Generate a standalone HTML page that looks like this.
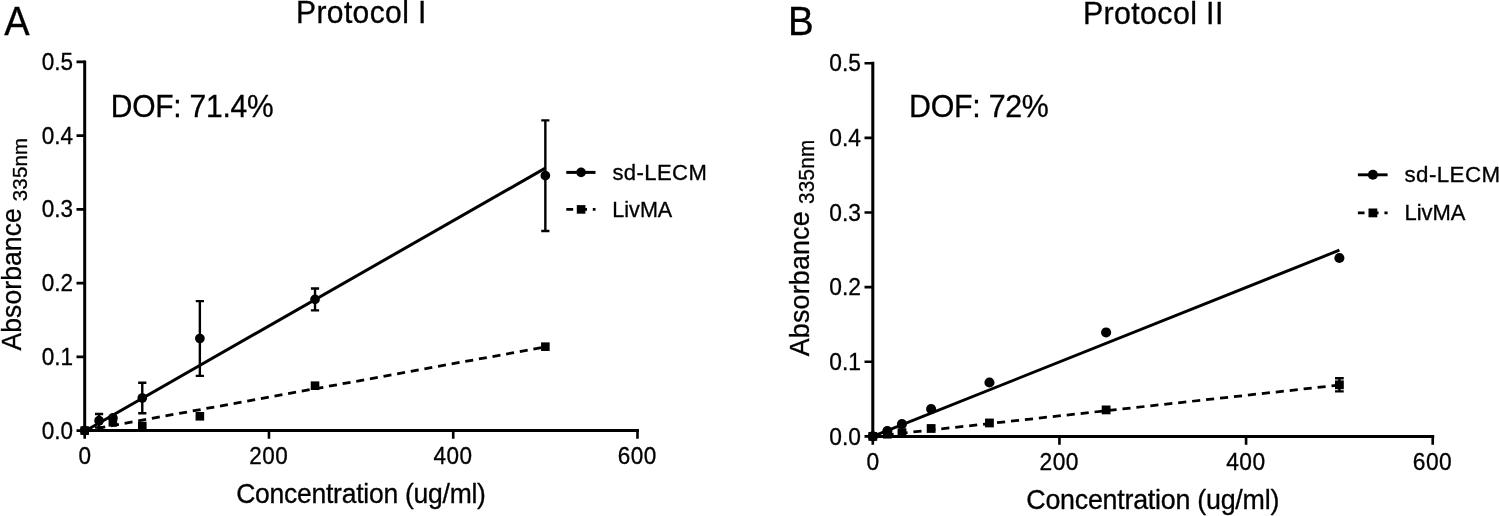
<!DOCTYPE html>
<html lang="en">
<head>
<meta charset="utf-8">
<title>Protocol I / Protocol II</title>
<style>
html,body{margin:0;padding:0;background:#fff;}
body{width:1499px;height:516px;overflow:hidden;}
svg{display:block;}
text{font-family:'Liberation Sans', Arial, Helvetica, sans-serif;fill:#000;stroke:#000;stroke-width:0.3px;}
</style>
</head>
<body>
<svg width="1499" height="516" viewBox="0 0 1499 516">
<rect width="1499" height="516" fill="#fff"/>
<g id="panelA">
<path d="M84.7 60.4V430.6H638.98" fill="none" stroke="#000" stroke-width="3" stroke-linejoin="miter"/>
<path d="M76.5 430.6H84.7M76.5 356.86H84.7M76.5 283.12H84.7M76.5 209.38H84.7M76.5 135.64H84.7M76.5 61.9H84.7M84.7 430.6V438.8M268.96 430.6V438.8M453.22 430.6V438.8M637.48 430.6V438.8" fill="none" stroke="#000" stroke-width="2.6"/>
<text transform="translate(73 438.6) scale(1 1.06)" font-size="22.5" text-anchor="end">0.0</text>
<text transform="translate(73 364.86) scale(1 1.06)" font-size="22.5" text-anchor="end">0.1</text>
<text transform="translate(73 291.12) scale(1 1.06)" font-size="22.5" text-anchor="end">0.2</text>
<text transform="translate(73 217.38) scale(1 1.06)" font-size="22.5" text-anchor="end">0.3</text>
<text transform="translate(73 143.64) scale(1 1.06)" font-size="22.5" text-anchor="end">0.4</text>
<text transform="translate(73 69.9) scale(1 1.06)" font-size="22.5" text-anchor="end">0.5</text>
<text transform="translate(84.7 463.5) scale(1 1.06)" font-size="22.5" text-anchor="middle">0</text>
<text transform="translate(268.76 463.5) scale(1 1.06)" font-size="22.5" text-anchor="middle" letter-spacing="0.45">200</text>
<text transform="translate(453.02 463.5) scale(1 1.06)" font-size="22.5" text-anchor="middle" letter-spacing="0.45">400</text>
<text transform="translate(637.28 463.5) scale(1 1.06)" font-size="22.5" text-anchor="middle" letter-spacing="0.45">600</text>
<path d="M84.7 431.19L545.35 168.09" stroke="#000" stroke-width="3" fill="none"/>
<path d="M84.7 430.6L545.35 346.91" stroke="#000" stroke-width="2.8" stroke-dasharray="8.04 5.81" stroke-dashoffset="1" fill="none"/>
<path d="M99.07 413.93V427.5M94.97 413.93h8.2M94.97 427.5h8.2M142.28 382.82V413.2M138.18 382.82h8.2M138.18 413.2h8.2M199.86 301.11V375.88M195.76 301.11h8.2M195.76 375.88h8.2M315.02 288.43V310.4M310.92 288.43h8.2M310.92 310.4h8.2M545.35 120.38V230.99M541.25 120.38h8.2M541.25 230.99h8.2" stroke="#000" stroke-width="2.4" fill="none"/>
<circle cx="84.7" cy="430.6" r="4.85"/>
<circle cx="99.07" cy="420.72" r="4.85"/>
<circle cx="112.89" cy="417.92" r="4.85"/>
<circle cx="142.28" cy="398.01" r="4.85"/>
<circle cx="199.86" cy="338.5" r="4.85"/>
<circle cx="315.02" cy="299.42" r="4.85"/>
<circle cx="545.35" cy="175.68" r="4.85"/>
<rect x="80.4" y="426.3" width="8.6" height="8.6"/>
<rect x="108.59" y="417.97" width="8.6" height="8.6"/>
<rect x="137.98" y="421.73" width="8.6" height="8.6"/>
<rect x="195.56" y="411.99" width="8.6" height="8.6"/>
<rect x="310.72" y="381.39" width="8.6" height="8.6"/>
<rect x="541.05" y="342.38" width="8.6" height="8.6"/>
<path d="M566.3 172.4H595.5" stroke="#000" stroke-width="3"/>
<circle cx="581.1" cy="172.4" r="4.85"/>
<text transform="translate(612.4 179.6) scale(1.05 1.03)" font-size="21" letter-spacing="0.4">sd-LECM</text>
<path d="M566.3 209.4H595.5" stroke="#000" stroke-width="2.8" stroke-dasharray="8.04 5.81" stroke-dashoffset="1.2"/>
<rect x="576.8" y="205.1" width="8.6" height="8.6"/>
<text transform="translate(612.3 216.6) scale(1.028 1.03)" font-size="21">LivMA</text>
<text transform="translate(4.3 35) scale(1 1.05)" font-size="38">A</text>
<text transform="translate(296 23) scale(1 1.02)" font-size="30" letter-spacing="0.4">Protocol I</text>
<text transform="translate(110.7 117.1) scale(1 1.045)" font-size="30" letter-spacing="-0.23">DOF: 71.4%</text>
<text transform="translate(236.2 502.8) scale(1 1.03)" font-size="26.5" letter-spacing="-0.25">Concentration (ug/ml)</text>
<text transform="translate(20.5 350.6) rotate(-90) scale(1 1.03)" font-size="26.5" letter-spacing="0.11">Absorbance<tspan dx="6.9" dy="6.5" font-size="20.4" letter-spacing="0.25">335nm</tspan></text>
</g>
<g id="panelB">
<path d="M872.8 61.68V436.4H1434.24" fill="none" stroke="#000" stroke-width="3.04" stroke-linejoin="miter"/>
<path d="M864.5 436.4H872.8M864.5 361.76H872.8M864.5 287.12H872.8M864.5 212.48H872.8M864.5 137.84H872.8M864.5 63.2H872.8M872.8 436.4V444.7M1059.44 436.4V444.7M1246.08 436.4V444.7M1432.72 436.4V444.7" fill="none" stroke="#000" stroke-width="2.63"/>
<text transform="translate(861 444.5) scale(1 1.04)" font-size="22.78" text-anchor="end">0.0</text>
<text transform="translate(861 369.86) scale(1 1.04)" font-size="22.78" text-anchor="end">0.1</text>
<text transform="translate(861 295.22) scale(1 1.04)" font-size="22.78" text-anchor="end">0.2</text>
<text transform="translate(861 220.58) scale(1 1.04)" font-size="22.78" text-anchor="end">0.3</text>
<text transform="translate(861 145.94) scale(1 1.04)" font-size="22.78" text-anchor="end">0.4</text>
<text transform="translate(861 71.3) scale(1 1.04)" font-size="22.78" text-anchor="end">0.5</text>
<text transform="translate(872.8 469.7) scale(1 1.04)" font-size="22.78" text-anchor="middle">0</text>
<text transform="translate(1059.24 469.7) scale(1 1.04)" font-size="22.78" text-anchor="middle" letter-spacing="0.45">200</text>
<text transform="translate(1245.88 469.7) scale(1 1.04)" font-size="22.78" text-anchor="middle" letter-spacing="0.45">400</text>
<text transform="translate(1432.52 469.7) scale(1 1.04)" font-size="22.78" text-anchor="middle" letter-spacing="0.45">600</text>
<path d="M872.8 436.4L1339.4 250.17" stroke="#000" stroke-width="2.9" fill="none"/>
<path d="M872.8 436.4L1339.4 385.05" stroke="#000" stroke-width="2.75" stroke-dasharray="8.14 5.88" stroke-dashoffset="1.2" fill="none"/>
<path d="M1339.4 378.26V391.39M1335.05 378.26h8.7M1335.05 391.39h8.7" stroke="#000" stroke-width="2.4" fill="none"/>
<circle cx="872.8" cy="436.4" r="5.05"/>
<circle cx="887.36" cy="431.1" r="5.05"/>
<circle cx="901.96" cy="424.08" r="5.05"/>
<circle cx="931.12" cy="409.01" r="5.05"/>
<circle cx="989.45" cy="382.51" r="5.05"/>
<circle cx="1106.1" cy="332.43" r="5.05"/>
<circle cx="1339.4" cy="258.01" r="5.05"/>
<rect x="868.4" y="432" width="8.8" height="8.8"/>
<rect x="882.96" y="429.76" width="8.8" height="8.8"/>
<rect x="897.56" y="428.27" width="8.8" height="8.8"/>
<rect x="926.73" y="424.09" width="8.8" height="8.8"/>
<rect x="985.05" y="418.56" width="8.8" height="8.8"/>
<rect x="1101.7" y="405.5" width="8.8" height="8.8"/>
<rect x="1335" y="380.42" width="8.8" height="8.8"/>
<path d="M1357.9 174.8H1387.6" stroke="#000" stroke-width="2.9"/>
<circle cx="1372.9" cy="174.8" r="5.05"/>
<text transform="translate(1404.5 182.1) scale(1.05 1.03)" font-size="21.26" letter-spacing="0.4">sd-LECM</text>
<path d="M1357.9 212.9H1387.6" stroke="#000" stroke-width="2.75" stroke-dasharray="8.14 5.88" stroke-dashoffset="1.5"/>
<rect x="1368.5" y="208.5" width="8.8" height="8.8"/>
<text transform="translate(1404.4 219.9) scale(1.035 1.03)" font-size="21.26">LivMA</text>
<text transform="translate(788 35.2) scale(1 1.035)" font-size="38.5">B</text>
<text transform="translate(1082.9 24.1) scale(1 1.03)" font-size="30.38" letter-spacing="0.37">Protocol II</text>
<text transform="translate(909.1 116.6) scale(1 1.03)" font-size="30.38" letter-spacing="-0.29">DOF: 72%</text>
<text transform="translate(1026.3 508.9) scale(1 1.03)" font-size="26.83" letter-spacing="-0.24">Concentration (ug/ml)</text>
<text transform="translate(808.5 356.2) rotate(-90) scale(1 1.03)" font-size="26.83" letter-spacing="0.19">Absorbance<tspan dx="7.3" dy="5.8" font-size="20.65" letter-spacing="0.25">335nm</tspan></text>
</g>
</svg>
</body>
</html>
